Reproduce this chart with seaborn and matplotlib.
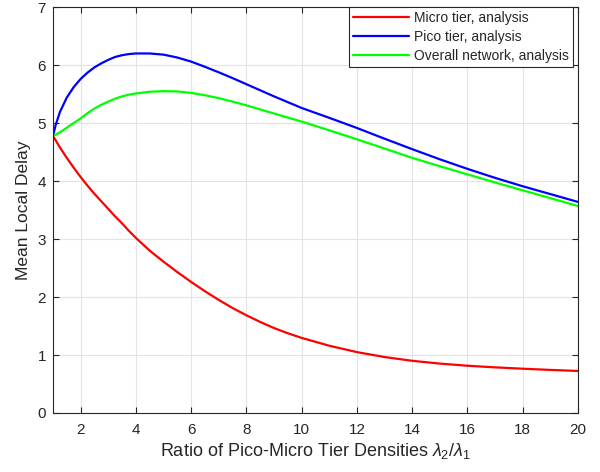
import matplotlib
matplotlib.use('Agg')
import matplotlib.pyplot as plt
import numpy as np
import pandas as pd
import seaborn as sns

# values
ratio = [1, 1.1, 1.25, 1.5, 1.75, 2, 2.25, 2.5, 2.75, 3, 3.25, 3.5, 3.75, 4, 4.5, 5, 5.5,
         6, 6.5, 7, 7.5, 8, 8.5, 9, 9.5, 10, 11, 12, 13, 14, 15, 16, 17, 18, 19, 20]
micro = [4.78, 4.70, 4.58, 4.40, 4.23, 4.07, 3.92, 3.78, 3.65, 3.52, 3.39, 3.27, 3.14,
         3.02, 2.80, 2.61, 2.43, 2.26, 2.10, 1.95, 1.81, 1.685, 1.57, 1.465, 1.375,
         1.295, 1.16, 1.05, 0.965, 0.90, 0.852, 0.815, 0.787, 0.764, 0.743, 0.725]
pico = [4.78, 4.97, 5.19, 5.44, 5.62, 5.76, 5.87, 5.96, 6.03, 6.09, 6.14, 6.17, 6.19,
        6.20, 6.20, 6.18, 6.13, 6.06, 5.97, 5.875, 5.775, 5.67, 5.565, 5.46, 5.36,
        5.26, 5.09, 4.915, 4.73, 4.55, 4.375, 4.21, 4.055, 3.91, 3.775, 3.64]
overall = [4.78, 4.80, 4.84, 4.92, 5.00, 5.08, 5.17, 5.25, 5.315, 5.37, 5.42, 5.46, 5.49,
           5.51, 5.54, 5.55, 5.545, 5.52, 5.48, 5.43, 5.37, 5.305, 5.235, 5.165, 5.095,
           5.025, 4.875, 4.72, 4.56, 4.40, 4.255, 4.115, 3.975, 3.84, 3.705, 3.57]

labels = ["Micro tier, analysis", "Pico tier, analysis", "Overall network, analysis"]
colors = ["#ff0000", "#0000ff", "#00ff00"]

n = len(ratio)
df = pd.DataFrame({
    "ratio": ratio * 3,
    "delay": micro + pico + overall,
    "series": [labels[0]] * n + [labels[1]] * n + [labels[2]] * n,
})

sns.set_style("whitegrid")
plt.rcParams['font.family'] = ['Liberation Sans', 'DejaVu Sans']
plt.rcParams['mathtext.fontset'] = 'custom'
plt.rcParams['mathtext.rm'] = 'Liberation Sans'
plt.rcParams['mathtext.it'] = 'Liberation Sans:italic'

fig = plt.figure(figsize=(6, 4.72), dpi=100)
ax = fig.add_axes([0.0883, 0.125, 0.875, 0.86])

sns.lineplot(data=df, x="ratio", y="delay", hue="series", hue_order=labels,
             palette=colors, linewidth=1.6, ax=ax, sort=False)

ax.set_xlim(1, 20)
ax.set_ylim(0, 7)
ax.set_xticks(np.arange(2, 21, 2))
ax.set_yticks(np.arange(0, 8, 1))
ax.grid(True, color="#e3e3e3", linewidth=0.8)
for s in ax.spines.values():
    s.set_color("#262626")
    s.set_linewidth(0.8)
ax.tick_params(axis="both", direction="in", length=4, color="#262626",
               labelsize=11, labelcolor="#262626", top=True, right=True,
               bottom=True, left=True)
ax.tick_params(axis="x", pad=7)
ax.tick_params(axis="y", pad=5)
ax.set_xlabel(r"Ratio of Pico-Micro Tier Densities $\lambda_2/\lambda_1$",
              fontsize=13, color="#262626", labelpad=3)
ax.set_ylabel("Mean Local Delay", fontsize=12.5, color="#262626", labelpad=5)

leg = ax.legend(loc="upper right", fontsize=10, frameon=True, fancybox=False,
                edgecolor="#262626", framealpha=1, handlelength=4.0,
                borderaxespad=0.0, borderpad=0.3, labelspacing=0.35,
                handletextpad=0.35, bbox_to_anchor=(0.99, 1.0))
leg.get_frame().set_linewidth(0.8)

fig.savefig("out.png", dpi=100)
